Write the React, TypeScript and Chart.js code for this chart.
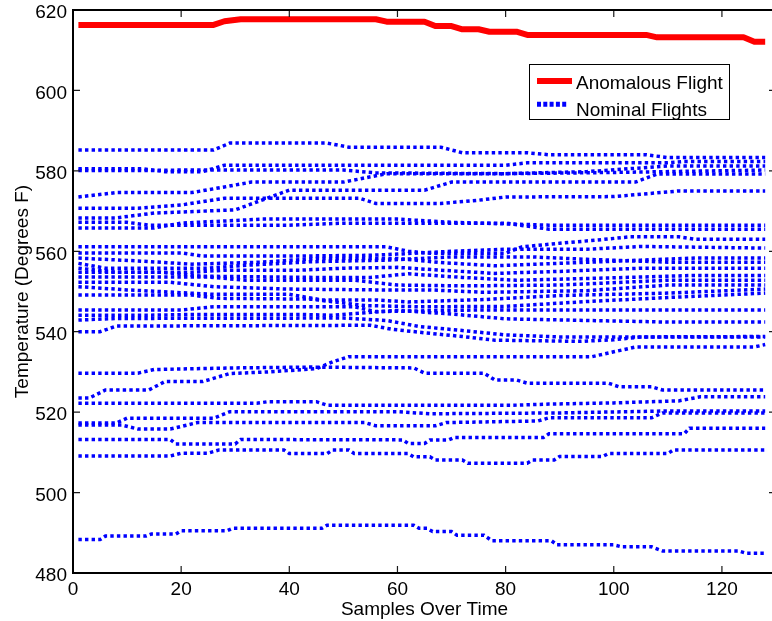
import React, { useEffect, useRef } from "react";
import { Chart, registerables } from "chart.js";

Chart.register(...registerables);

type Pt = [number, number];

// ---------- data (sample index, temperature °F) ----------
const xTickValues = [0, 20, 40, 60, 80, 100, 120];
const yTickValues = [480, 500, 520, 540, 560, 580, 600, 620];
const legendLabels = ["Anomalous Flight", "Nominal Flights"];
const axisTitles = { x: "Samples Over Time", y: "Temperature (Degrees F)" };

const anomalousFlight: Pt[] = [
  [1, 616.3], [26, 616.3], [28, 617.2], [31, 617.7], [56, 617.7], [58, 617.1], [65, 617.1],
  [67, 616], [70, 616], [72, 615.2], [75, 615.2], [77, 614.6], [82, 614.6], [84, 613.8],
  [106, 613.8], [108, 613.2], [124, 613.2], [126, 612.1], [128, 612.1],
];

const nominalA: Pt[] = [[1, 585.2], [26, 585.2], [29, 586.9], [47, 586.9], [51, 585.9], [68, 585.9], [72, 584.5], [84, 584.5], [88, 584], [106, 584], [110, 583.3], [128, 583.3]];
const nominalB: Pt[] = [[1, 580.5], [13, 580.5], [17, 579.8], [24, 579.8], [28, 581.4], [80, 581.4], [84, 582], [110, 582], [113, 582.3], [128, 582.3]];
const nominalB2: Pt[] = [[1, 580.1], [14, 580.1], [20, 580.2], [50, 580.2], [56, 579.5], [80, 579.3], [100, 579.6], [128, 580.2]];
const nominalC: Pt[] = [[1, 573.5], [8, 574.6], [22, 574.6], [28, 576], [33, 577.2], [50, 577.2], [58, 579.3], [80, 579.3], [95, 579.8], [110, 581.2], [128, 581.2]];
const nominalD: Pt[] = [[1, 570.7], [12, 570.7], [20, 571.5], [28, 573.2], [53, 573.2], [56, 571.9], [68, 571.9], [75, 572.7], [80, 573.5], [100, 573.6], [112, 575], [128, 575]];
const nominalE: Pt[] = [[1, 568.3], [8, 568.3], [15, 569.5], [30, 570.3], [40, 575.2], [65, 575.2], [70, 577.2], [104, 577.2], [108, 579.2], [128, 579.2]];
const nominalF: Pt[] = [[1, 565.8], [15, 565.8], [20, 567], [35, 568], [60, 568], [70, 567.2], [88, 566.5], [128, 566.5]];
const nominalF2: Pt[] = [[1, 567.2], [10, 567.2], [14, 566.5], [40, 566.5], [50, 567], [80, 567], [88, 565.5], [128, 565.5]];
const nominalG: Pt[] = [[1, 561.1], [58, 561.1], [62, 560], [66, 559.5], [80, 559.5], [83, 561.1], [90, 562], [97, 562.8], [103, 563.6], [112, 563.6], [115, 563], [128, 563]];
const nominalH: Pt[] = [[1, 559.6], [20, 559.6], [24, 558.8], [40, 558.8], [55, 559], [60, 559.3], [70, 560], [80, 560.5], [95, 560.5], [105, 561.2], [128, 560.8]];
const nominalI: Pt[] = [[1, 558.3], [12, 557.6], [22, 556.8], [35, 557.3], [45, 558.2], [60, 558.2], [68, 557.2], [78, 556.4], [90, 557], [105, 557.8], [115, 558.3], [128, 558.3]];
const nominalJ: Pt[] = [[1, 557], [6, 555.8], [25, 555.8], [33, 556.6], [44, 557.4], [58, 557.8], [70, 558.6], [85, 558.6], [95, 558], [110, 557.3], [128, 557.3]];
const nominalK: Pt[] = [[1, 555.8], [8, 554.8], [22, 554.8], [28, 555.3], [42, 555.3], [50, 555.8], [60, 556], [68, 555.3], [78, 554.5], [90, 555], [105, 555.8], [128, 555.8]];
const nominalL: Pt[] = [[1, 554.8], [16, 554.8], [24, 553.8], [45, 553.5], [55, 553.5], [62, 554.4], [72, 553.5], [82, 552.8], [100, 553.4], [115, 554], [128, 554]];
const nominalM: Pt[] = [[1, 553.6], [25, 553.6], [32, 552.8], [52, 552.8], [60, 551.6], [72, 551.4], [90, 551.6], [110, 552.8], [128, 552.8]];
const nominalN: Pt[] = [[1, 552.3], [18, 552.3], [26, 551.2], [40, 550.6], [56, 550.4], [66, 550.4], [76, 549.8], [95, 550.2], [110, 551.6], [128, 551.6]];
const nominalO: Pt[] = [[1, 551.2], [10, 550.4], [26, 549.3], [40, 549.3], [46, 547.9], [56, 547.9], [62, 547.4], [76, 548], [90, 549], [110, 549.6], [128, 550.6]];
const nominalP: Pt[] = [[1, 549.1], [22, 549.1], [27, 548.3], [44, 548.1], [54, 546.5], [64, 546.2], [80, 546.3], [95, 547.5], [110, 548.5], [128, 549.6]];
const nominalQ: Pt[] = [[1, 545.4], [20, 545.4], [26, 546.2], [52, 546.2], [56, 545], [75, 545.4], [100, 545.4], [128, 545.4]];
const nominalR: Pt[] = [[1, 544.1], [14, 544.1], [22, 544.3], [42, 544.3], [48, 544.1], [60, 545.3], [70, 544.4], [80, 543.2], [95, 542.8], [110, 542.4], [128, 542.4]];
const nominalS: Pt[] = [[1, 542.9], [8, 543.3], [50, 543.4], [58, 542.8], [64, 541.3], [72, 540.3], [80, 539.2], [90, 538.7], [128, 538.7]];
const nominalT: Pt[] = [[1, 540], [5, 540], [8, 541.4], [55, 541.6], [59, 540.6], [66, 539.6], [72, 538.8], [78, 537.9], [94, 537.6], [100, 538], [105, 538.7], [128, 538.8]];
const nominalU: Pt[] = [[1, 529.7], [12, 529.7], [15, 530.6], [30, 531], [44, 531.2], [63, 531], [65, 529.7], [76, 529.7], [78, 528], [82, 528], [84, 527.2], [99, 527.2], [101, 526.3], [107, 526.3], [109, 525.5], [128, 525.5]];
const nominalV: Pt[] = [[1, 523.5], [3, 523.5], [6, 525.5], [14, 525.5], [17, 527.6], [24, 527.6], [29, 529.6], [36, 530], [45, 530.8], [48, 532.5], [51, 533.8], [96, 533.8], [100, 535], [104, 536.2], [126, 536.2], [128, 536.8]];
const nominalW: Pt[] = [[1, 522.2], [34, 522.2], [36, 522.6], [45, 522.6], [47, 521.7], [81, 521.7], [88, 522], [100, 522.3], [112, 522.8], [116, 523.8], [128, 523.8]];
const nominalX: Pt[] = [[1, 516.8], [9, 516.8], [12, 515.8], [18, 515.8], [23, 517.4], [54, 517.4], [56, 516.6], [67, 516.6], [69, 517.4], [86, 517.8], [88, 518.6], [107, 518.6], [109, 519.8], [128, 519.8]];
const nominalX2: Pt[] = [[1, 517.3], [8, 517.3], [10, 518.5], [26, 518.5], [29, 520.1], [60, 520.1], [66, 519.6], [90, 519.8], [110, 520.3], [128, 520.3]];
const nominalY: Pt[] = [[1, 513.2], [18, 513.2], [19, 512.1], [30, 512.1], [31, 513.2], [61, 513.1], [62, 512.2], [65, 512.2], [66, 513.1], [69.5, 513.1], [70.5, 513.7], [87, 513.7], [88, 514.6], [113, 514.6], [114, 516], [128, 516]];
const nominalZ: Pt[] = [[1, 509.1], [18, 509.1], [20, 509.8], [25, 509.8], [27, 510.6], [39, 510.6], [40, 509.7], [47, 509.7], [48, 510.6], [51, 510.6], [52, 509.7], [62, 509.7], [63, 508.9], [66, 508.9], [67, 508.1], [72, 508.1], [73, 507.3], [84, 507.3], [85, 508.1], [89, 508.1], [90, 509], [98, 509], [99, 509.7], [110, 509.7], [111, 510.6], [128, 510.6]];
const nominalAA: Pt[] = [[1, 488.3], [5, 488.3], [6, 489.2], [13.5, 489.2], [14.5, 489.7], [19, 489.7], [20, 490.5], [28.5, 490.5], [29.5, 491.1], [46, 491.1], [47, 491.9], [63, 491.9], [64, 491.1], [65.5, 491.1], [66.5, 490.3], [70, 490.3], [71, 489.4], [76, 489.4], [77.5, 488], [88.5, 488], [89.5, 487], [100, 487], [101.5, 486.5], [107, 486.5], [109, 485.5], [123, 485.5], [124.5, 484.9], [128, 484.9]];

const nominalFlights: Pt[][] = [
  nominalA, nominalB, nominalB2, nominalC, nominalD, nominalE, nominalF, nominalF2,
  nominalG, nominalH, nominalI, nominalJ, nominalK, nominalL, nominalM, nominalN,
  nominalO, nominalP, nominalQ, nominalR, nominalS, nominalT,
  nominalU, nominalV, nominalW, nominalX, nominalX2, nominalY, nominalZ, nominalAA,
];

// ---------- styling ----------
const FONT = "'Liberation Sans', Arial, Helvetica, sans-serif";
const RED = "#ff0000";
const BLUE = "#0000ff";
const DOT_DASH = [3.4, 3.2];

const toXY = (pts: Pt[]) => pts.map(([x, y]) => ({ x, y }));

const framePlugin = {
  id: "matlabFrame",
  afterDraw(chart: any) {
    const { ctx, chartArea: a, scales } = chart;
    const xs = scales.x;
    const ys = scales.y;
    ctx.save();
    // inward ticks
    ctx.strokeStyle = "#1a1a1a";
    ctx.lineWidth = 1.2;
    ctx.beginPath();
    for (const v of xTickValues) {
      const px = xs.getPixelForValue(v);
      ctx.moveTo(px, a.bottom);
      ctx.lineTo(px, a.bottom - 7);
      ctx.moveTo(px, a.top);
      ctx.lineTo(px, a.top + 7);
    }
    for (const v of yTickValues) {
      const py = ys.getPixelForValue(v);
      ctx.moveTo(a.left, py);
      ctx.lineTo(a.left + 7, py);
      ctx.moveTo(a.right, py);
      ctx.lineTo(a.right - 7, py);
    }
    ctx.stroke();
    // box
    ctx.strokeStyle = "#000";
    ctx.lineWidth = 2;
    ctx.strokeRect(a.left, a.top, a.right - a.left, a.bottom - a.top);

    // legend
    const bx = 529, by = 64, bw = 200, bh = 55;
    ctx.fillStyle = "#fff";
    ctx.fillRect(bx, by, bw, bh);
    ctx.lineWidth = 1;
    ctx.strokeStyle = "#000";
    ctx.strokeRect(bx + 0.5, by + 0.5, bw, bh);

    ctx.lineCap = "butt";
    ctx.strokeStyle = RED;
    ctx.lineWidth = 6;
    ctx.beginPath();
    ctx.moveTo(537, 81);
    ctx.lineTo(572, 81);
    ctx.stroke();

    ctx.strokeStyle = BLUE;
    ctx.lineWidth = 5;
    ctx.setLineDash([4, 2.3]);
    ctx.beginPath();
    ctx.moveTo(537, 104.2);
    ctx.lineTo(568, 104.2);
    ctx.stroke();
    ctx.setLineDash([]);

    ctx.fillStyle = "#000";
    ctx.font = `19px ${FONT}`;
    ctx.textAlign = "left";
    ctx.textBaseline = "alphabetic";
    ctx.fillText(chart.data.datasets[0].label, 576, 89.3);
    ctx.fillText(chart.data.datasets[1].label, 576, 116);
    ctx.restore();
  },
};

export default function App() {
  const canvasRef = useRef<HTMLCanvasElement | null>(null);

  useEffect(() => {
    const canvas = canvasRef.current;
    if (!canvas) return;

    const datasets: any[] = [
      {
        label: legendLabels[0],
        data: toXY(anomalousFlight),
        borderColor: RED,
        backgroundColor: RED,
        borderWidth: 6,
        borderCapStyle: "butt",
        borderJoinStyle: "round",
        pointRadius: 0,
        fill: false,
        order: 0,
      },
      ...nominalFlights.map((series) => ({
        label: legendLabels[1],
        data: toXY(series),
        borderColor: BLUE,
        backgroundColor: BLUE,
        borderWidth: 3.5,
        borderDash: DOT_DASH,
        borderCapStyle: "butt",
        borderJoinStyle: "miter",
        pointRadius: 0,
        fill: false,
        order: 1,
      })),
    ];

    const tickFont = { family: FONT, size: 19 };

    const chart = new Chart(canvas, {
      type: "line",
      data: { datasets },
      options: {
        responsive: false,
        animation: false,
        devicePixelRatio: 1,
        events: [],
        layout: { padding: { left: 0, top: 10, right: 4, bottom: 0 } },
        plugins: { legend: { display: false }, tooltip: { enabled: false } },
        elements: { point: { radius: 0 }, line: { tension: 0 } },
        scales: {
          x: {
            type: "linear",
            min: 0,
            max: 130,
            grid: { display: false, drawTicks: false },
            border: { display: false },
            afterBuildTicks: (s: any) => {
              s.ticks = xTickValues.map((value) => ({ value }));
            },
            ticks: {
              autoSkip: false,
              maxRotation: 0,
              padding: 5,
              color: "#000",
              font: tickFont,
            },
            title: {
              display: true,
              text: axisTitles.x,
              color: "#000",
              font: tickFont,
              padding: { top: 0, bottom: 0 },
            },
            afterFit: (s: any) => {
              s.height = 48;
              s.paddingLeft = 0;
              s.paddingRight = 0;
            },
          },
          y: {
            type: "linear",
            min: 480,
            max: 620,
            grid: { display: false, drawTicks: false },
            border: { display: false },
            afterBuildTicks: (s: any) => {
              s.ticks = yTickValues.map((value) => ({ value }));
            },
            ticks: {
              autoSkip: false,
              padding: 6,
              labelOffset: 3,
              color: "#000",
              font: tickFont,
            },
            title: {
              display: true,
              text: axisTitles.y,
              color: "#000",
              font: tickFont,
              padding: { top: 11.5, bottom: 0 },
            },
            afterFit: (s: any) => {
              s.width = 73;
              s.paddingTop = 0;
              s.paddingBottom = 0;
            },
          },
        },
      } as any,
      plugins: [framePlugin],
    });

    return () => chart.destroy();
  }, []);

  return (
    <div
      style={{
        position: "fixed",
        left: 0,
        top: 0,
        width: 772,
        height: 621,
        overflow: "hidden",
        background: "#fff",
      }}
    >
      <canvas
        ref={canvasRef}
        width={780}
        height={621}
        style={{ display: "block", width: 780, height: 621 }}
      />
    </div>
  );
}
